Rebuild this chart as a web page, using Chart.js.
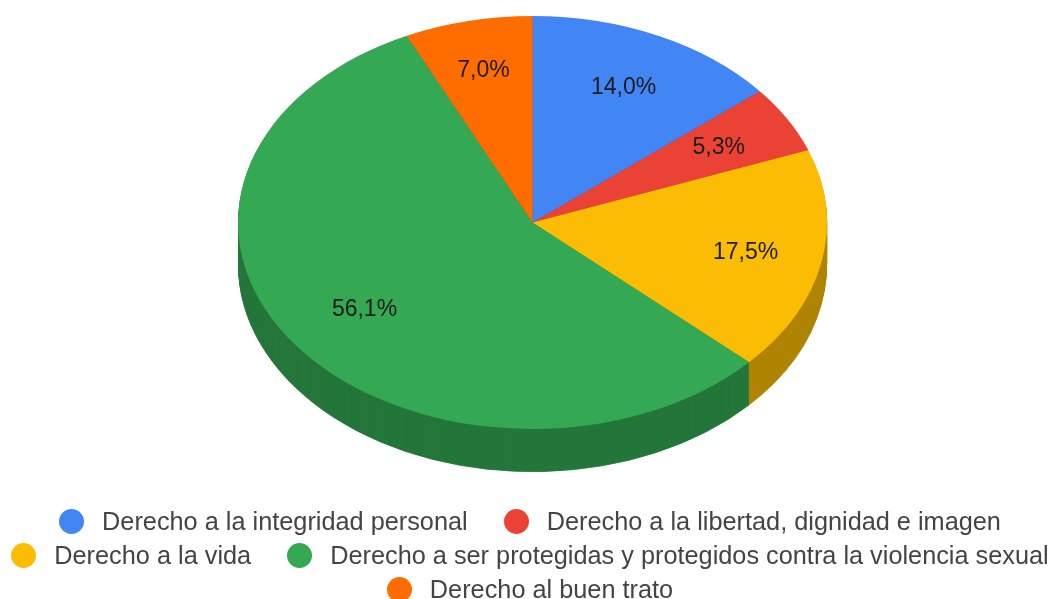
<!DOCTYPE html>
<html lang="es">
<head>
<meta charset="utf-8">
<title>Derechos</title>
<script src="https://cdn.jsdelivr.net/npm/chart.js@4"></script>
<style>
  html, body { margin:0; padding:0; background:#fff; width:1052px; height:599px; overflow:hidden; }
  #pie { position:absolute; left:0; top:0; }
  #legend {
    position:absolute; left:4px; top:505px; width:1052px;
    display:flex; flex-wrap:wrap; justify-content:center; column-gap:36px;
    font:25.3px "Liberation Sans", Arial, sans-serif; color:#444;
  }
  .legend-item { display:inline-flex; align-items:center; height:33.7px; white-space:nowrap; }
  .legend-dot { width:25px; height:25px; border-radius:50%; margin-right:18px; }
</style>
</head>
<body>
<canvas id="pie" width="1052" height="599"></canvas>
<div id="legend"></div>
<script>
const categories = [
  "Derecho a la integridad personal",
  "Derecho a la libertad, dignidad e imagen",
  "Derecho a la vida",
  "Derecho a ser protegidas y protegidos contra la violencia sexual",
  "Derecho al buen trato"
];
const values = [8, 3, 10, 32, 4];
const percentLabels = ["14,0%", "5,3%", "17,5%", "56,1%", "7,0%"];
const topColors = ["#4285f4", "#ea4335", "#fbbc04", "#34a853", "#ff6d01"];
const sideColors = ["#2e5dab", "#a42f25", "#b08403", "#24763a", "#b34c01"];

// where the tilted pie sits on the page
const TILT = { cx:532.5, cy:222.5, rx:294.5, ry:206.5, depth:43 };
// distance of each percent label from the centre, as a share of the radius
const labelAt = [0.725, 0.73, 0.737, 0.708, 0.761];

function tilt(ctx, arc, dy, inset){
  ctx.translate(TILT.cx, TILT.cy + dy);
  ctx.scale((TILT.rx - inset) / arc.outerRadius, (TILT.ry - inset * 0.7) / arc.outerRadius);
  ctx.translate(-arc.x, -arc.y);
}

// Chart.js has no 3D pie: squash the arcs and stack darker copies underneath
const tiltedPie = {
  id:"tiltedPie",
  beforeDatasetsDraw(chart){
    const ctx = chart.ctx, arcs = chart.getDatasetMeta(0).data;
    for(let d = TILT.depth; d > 0; d--){
      ctx.save();
      tilt(ctx, arcs[0], d, 0.5); // the 1px stroke on the copies hides streaks, pull it back in
      arcs.forEach((arc, i)=>{
        const opts = arc.options;
        arc.options = Object.assign({}, opts, { backgroundColor: sideColors[i], borderColor: sideColors[i], borderWidth: 1 });
        arc.draw(ctx);
        arc.options = opts;
      });
      ctx.restore();
    }
    ctx.save();
    tilt(ctx, arcs[0], 0, 0);
  },
  afterDatasetsDraw(chart){
    const ctx = chart.ctx, arcs = chart.getDatasetMeta(0).data;
    ctx.restore();
    ctx.save();
    ctx.font = '23px "Liberation Sans", Arial, sans-serif';
    ctx.fillStyle = "#1c1c1c";
    ctx.textAlign = "center";
    ctx.textBaseline = "middle";
    arcs.forEach((arc, i)=>{
      const mid = (arc.startAngle + arc.endAngle) / 2;
      const x = TILT.cx + Math.cos(mid) * TILT.rx * labelAt[i];
      const y = TILT.cy + Math.sin(mid) * TILT.ry * labelAt[i] + 1;
      ctx.fillText(percentLabels[i], x, y);
    });
    ctx.restore();
  }
};

function renderLegend(){
  const el = document.getElementById("legend");
  categories.forEach((name, i)=>{
    const dot = document.createElement("span"); dot.className = "legend-dot"; dot.style.background = topColors[i];
    const label = document.createElement("span"); label.textContent = name;
    const row = document.createElement("div"); row.className = "legend-item";
    row.appendChild(dot); row.appendChild(label); el.appendChild(row);
  });
}

renderLegend();
new Chart(document.getElementById("pie"), {
  type:"pie",
  data:{ labels:categories, datasets:[{ data:values, backgroundColor:topColors, borderWidth:0 }]},
  options:{
    responsive:false,
    animation:false,
    layout:{ padding:0 },
    plugins:{ legend:{ display:false }, tooltip:{ enabled:false } }
  },
  plugins:[tiltedPie]
});
</script>
</body>
</html>
